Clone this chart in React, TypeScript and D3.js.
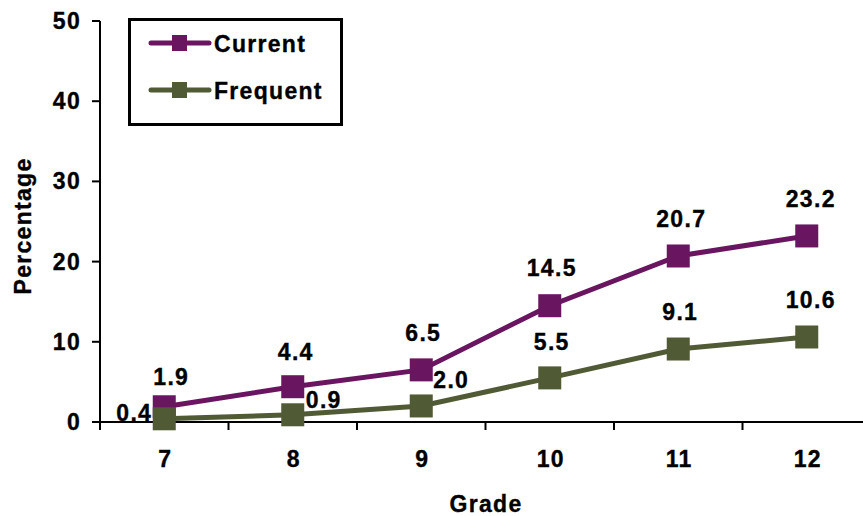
import React from "react";
import * as d3 from "d3";

const grades = ["7", "8", "9", "10", "11", "12"];
const currentValues = [1.9, 4.4, 6.5, 14.5, 20.7, 23.2];
const frequentValues = [0.4, 0.9, 2.0, 5.5, 9.1, 10.6];
const yTicks = [0, 10, 20, 30, 40, 50];

const PURPLE = "#6a1560";
const GREEN = "#505a35";
const FONT = "'Liberation Sans', Arial, Helvetica, sans-serif";
const FS = 23;
const LS = 1.3;

// label offsets relative to each point (dx, dy) for the frequent series
const frequentLabelPos: [number, number][] = [
  [-30, -6],
  [31, -15],
  [30, -26],
  [2, -36],
  [2, -37],
  [4, -37],
];

// label offsets for the current series
const currentLabelPos: [number, number][] = [
  [7, -30],
  [3, -35],
  [2, -37],
  [2, -38],
  [3, -37],
  [4, -37],
];

export default function App() {
  const width = 863;
  const height = 516;
  const x = d3.scaleBand<string>().domain(grades).range([100, 871]).padding(0);
  const y = d3.scaleLinear().domain([0, 50]).range([422, 21]);
  const cx = (g: string) => (x(g) as number) + x.bandwidth() / 2;

  const line = d3
    .line<number>()
    .x((_, i) => cx(grades[i]))
    .y((v) => y(v));

  const marker = 23;
  const boundaries = grades.map((g) => x(g) as number).concat([871]);

  const txt = {
    fontSize: FS,
    letterSpacing: LS,
    dominantBaseline: "central" as const,
    stroke: "#000",
    strokeWidth: 0.35,
  };

  return (
    <svg
      width={width}
      height={height}
      style={{ position: "absolute", left: 0, top: 0, background: "#fff" }}
      fontFamily={FONT}
      fontWeight="bold"
    >
      {/* axes */}
      <line x1={100} x2={100} y1={21} y2={422} stroke="#000" strokeWidth={2} />
      <line x1={100} x2={871} y1={422} y2={422} stroke="#000" strokeWidth={2} />
      {yTicks.map((t) => (
        <g key={t}>
          <line x1={92} x2={100} y1={y(t)} y2={y(t)} stroke="#000" strokeWidth={2} />
          <text x={81} y={y(t)} textAnchor="end" {...txt}>
            {t}
          </text>
        </g>
      ))}
      {boundaries.map((b, i) => (
        <line key={i} x1={b} x2={b} y1={422} y2={430} stroke="#000" strokeWidth={2} />
      ))}
      {grades.map((g) => (
        <text key={g} x={cx(g) + 1} y={459} textAnchor="middle" {...txt}>
          {g}
        </text>
      ))}
      <text x={486} y={504} textAnchor="middle" {...txt}>
        Grade
      </text>
      <text transform={`translate(23, 226) rotate(-90)`} textAnchor="middle" {...txt}>
        Percentage
      </text>

      {/* current series */}
      <path d={line(currentValues) as string} fill="none" stroke={PURPLE} strokeWidth={5} />
      {currentValues.map((v, i) => (
        <rect
          key={i}
          x={cx(grades[i]) - marker / 2}
          y={y(v) - marker / 2}
          width={marker}
          height={marker}
          fill={PURPLE}
        />
      ))}

      {/* frequent series */}
      <path d={line(frequentValues) as string} fill="none" stroke={GREEN} strokeWidth={5} />
      {frequentValues.map((v, i) => (
        <rect
          key={i}
          x={cx(grades[i]) - marker / 2}
          y={y(v) - marker / 2}
          width={marker}
          height={marker}
          fill={GREEN}
        />
      ))}

      {/* value labels */}
      {currentValues.map((v, i) => (
        <text
          key={i}
          x={cx(grades[i]) + currentLabelPos[i][0]}
          y={y(v) + currentLabelPos[i][1]}
          textAnchor="middle"
          {...txt}
        >
          {v.toFixed(1)}
        </text>
      ))}
      {frequentValues.map((v, i) => (
        <text
          key={i}
          x={cx(grades[i]) + frequentLabelPos[i][0]}
          y={y(v) + frequentLabelPos[i][1]}
          textAnchor="middle"
          {...txt}
        >
          {v.toFixed(1)}
        </text>
      ))}

      {/* legend */}
      <rect x={129.5} y={19.5} width={212} height={105} fill="#fff" stroke="#000" strokeWidth={3} />
      <line x1={151} x2={209} y1={43} y2={43} stroke={PURPLE} strokeWidth={5} strokeLinecap="round" />
      <rect x={172} y={35} width={15} height={16} fill={PURPLE} />
      <text x={214} y={44} {...txt}>
        Current
      </text>
      <line x1={151} x2={209} y1={90} y2={90} stroke={GREEN} strokeWidth={5} strokeLinecap="round" />
      <rect x={172} y={82} width={15} height={16} fill={GREEN} />
      <text x={214} y={91} {...txt}>
        Frequent
      </text>
    </svg>
  );
}
